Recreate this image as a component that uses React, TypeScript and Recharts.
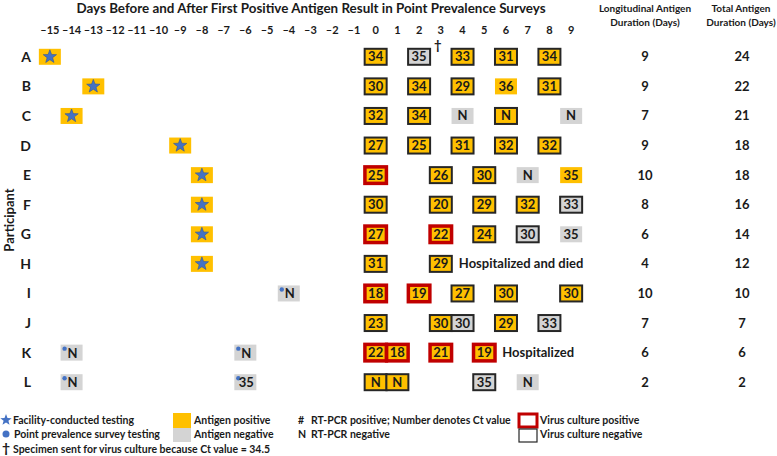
import { ScatterChart, Scatter, XAxis, YAxis, Customized } from "recharts";

const FONT = 'Lato, "Noto Sans", sans-serif';
const INK = "#1a1a1a";
const YELLOW = "#FFC000";
const GREY = "#D4D4D4";
const RED = "#C00000";
const BLUE = "#4472C4";
const BORDER = "#262626";

const participants = ["A", "B", "C", "D", "E", "F", "G", "H", "I", "J", "K", "L"];
const dayTicks = [-15, -14, -13, -12, -11, -10, -9, -8, -7, -6, -5, -4, -3, -2, -1, 0, 1, 2, 3, 4, 5, 6, 7, 8, 9];
const rowTicks = [0, 1, 2, 3, 4, 5, 6, 7, 8, 9, 10, 11];

const longitudinalDays = [9, 9, 7, 9, 10, 8, 6, 4, 10, 7, 6, 2];
const totalDays = [24, 22, 21, 18, 18, 16, 14, 12, 10, 7, 6, 2];

// facility-conducted antigen tests (all antigen positive)
const facilityTests: [string, number][] = [
  ["A", -15], ["B", -13], ["C", -14], ["D", -9],
  ["E", -8], ["F", -8], ["G", -8], ["H", -8],
];

// earlier point prevalence survey tests (antigen negative): participant, day, RT-PCR
const earlySurveyTests: [string, number, string][] = [
  ["I", -4, "N"], ["K", -14, "N"], ["K", -6, "N"], ["L", -14, "N"], ["L", -6, "35"],
];

// participant, day, RT-PCR (Ct or N), antigen positive, virus culture
type Culture = "pos" | "neg" | "";
const surveyResults: [string, number, string, boolean, Culture][] = [
  ["A", 0, "34", true, "neg"], ["A", 2, "35", false, "neg"], ["A", 4, "33", true, "neg"], ["A", 6, "31", true, "neg"], ["A", 8, "34", true, "neg"],
  ["B", 0, "30", true, "neg"], ["B", 2, "34", true, "neg"], ["B", 4, "29", true, "neg"], ["B", 6, "36", true, ""], ["B", 8, "31", true, "neg"],
  ["C", 0, "32", true, "neg"], ["C", 2, "34", true, "neg"], ["C", 4, "N", false, ""], ["C", 6, "N", true, "neg"], ["C", 9, "N", false, ""],
  ["D", 0, "27", true, "neg"], ["D", 2, "25", true, "neg"], ["D", 4, "31", true, "neg"], ["D", 6, "32", true, "neg"], ["D", 8, "32", true, "neg"],
  ["E", 0, "25", true, "pos"], ["E", 3, "26", true, "neg"], ["E", 5, "30", true, "neg"], ["E", 7, "N", false, ""], ["E", 9, "35", true, ""],
  ["F", 0, "30", true, "neg"], ["F", 3, "20", true, "neg"], ["F", 5, "29", true, "neg"], ["F", 7, "32", true, "neg"], ["F", 9, "33", false, "neg"],
  ["G", 0, "27", true, "pos"], ["G", 3, "22", true, "pos"], ["G", 5, "24", true, "neg"], ["G", 7, "30", false, "neg"], ["G", 9, "35", false, ""],
  ["H", 0, "31", true, "neg"], ["H", 3, "29", true, "neg"],
  ["I", 0, "18", true, "pos"], ["I", 2, "19", true, "pos"], ["I", 4, "27", true, "neg"], ["I", 6, "30", true, "neg"], ["I", 9, "30", true, "neg"],
  ["J", 0, "23", true, "neg"], ["J", 3, "30", true, "neg"], ["J", 4, "30", false, "neg"], ["J", 6, "29", true, "neg"], ["J", 8, "33", false, "neg"],
  ["K", 0, "22", true, "pos"], ["K", 1, "18", true, "pos"], ["K", 3, "21", true, "pos"], ["K", 5, "19", true, "pos"],
  ["L", 0, "N", true, "neg"], ["L", 1, "N", true, "neg"], ["L", 5, "35", false, "neg"], ["L", 7, "N", false, ""],
];

const notes: [string, number, string][] = [
  ["H", 3, "Hospitalized and died"],
  ["K", 5, "Hospitalized"],
];

const daggers: [string, number][] = [["A", 2]];

const rowOf = (p: string) => participants.indexOf(p);

const facilityData = facilityTests.map(([p, day]) => ({ day, row: rowOf(p) }));
const earlyData = earlySurveyTests.map(([p, day, pcr]) => ({ day, row: rowOf(p), pcr }));
const surveyData = surveyResults.map(([p, day, pcr, antigen, culture]) => ({ day, row: rowOf(p), pcr, antigen, culture }));
const noteData = notes.map(([p, day, text]) => ({ day, row: rowOf(p), text }));
const daggerData = daggers.map(([p, day]) => ({ day, row: rowOf(p) }));

const minus = (v: number) => (v < 0 ? "\u2013" + Math.abs(v) : String(v));

const starPath = (cx: number, cy: number, R: number, r: number) => {
  const pts: string[] = [];
  for (let i = 0; i < 10; i++) {
    const a = -Math.PI / 2 + (i * Math.PI) / 5;
    const rad = i % 2 === 0 ? R : r;
    pts.push(`${cx + rad * Math.cos(a)},${cy + rad * Math.sin(a)}`);
  }
  return "M" + pts.join("L") + "Z";
};

const cellText = (cx: number, cy: number, s: string) => (
  <text x={cx} y={cy + 4.5} textAnchor="middle" fontFamily={FONT} fontWeight={700} fontSize={13} fill={INK}>
    {s}
  </text>
);

const ResultCell = (props: any) => {
  const { cx, cy, payload } = props;
  const fill = payload.antigen ? YELLOW : GREY;
  if (payload.culture === "pos") {
    return (
      <g>
        <rect x={cx - 12.5} y={cy - 10} width={25} height={20} fill={RED} />
        <rect x={cx - 9} y={cy - 6.5} width={18} height={13} fill={fill} />
        {cellText(cx, cy, payload.pcr)}
      </g>
    );
  }
  return (
    <g>
      <rect
        x={cx - 11}
        y={cy - 8}
        width={22}
        height={16}
        fill={fill}
        stroke={payload.culture === "neg" ? BORDER : "none"}
        strokeWidth={2}
      />
      {cellText(cx, cy, payload.pcr)}
    </g>
  );
};

const FacilityCell = (props: any) => {
  const { cx, cy } = props;
  return (
    <g>
      <rect x={cx - 11} y={cy - 8} width={22} height={16} fill={YELLOW} />
      <path d={starPath(cx, cy, 7, 2.9)} fill={BLUE} stroke="#2F5597" strokeWidth={0.6} />
    </g>
  );
};

const EarlyCell = (props: any) => {
  const { cx, cy, payload } = props;
  return (
    <g>
      <rect x={cx - 11} y={cy - 8} width={22} height={16} fill={GREY} />
      <circle cx={cx - 7} cy={cy - 4} r={2.2} fill={BLUE} />
      <text x={cx + 1} y={cy + 5} textAnchor="middle" fontFamily={FONT} fontWeight={700} fontSize={13} fill={INK}>
        {payload.pcr}
      </text>
    </g>
  );
};

const NoteCell = (props: any) => {
  const { cx, cy, payload } = props;
  return (
    <text x={cx + 18} y={cy + 4.5} fontFamily={FONT} fontWeight={700} fontSize={13} fill={INK}>
      {payload.text}
    </text>
  );
};

const DaggerCell = (props: any) => {
  const { cx, cy } = props;
  return (
    <text x={cx + 15} y={cy - 7} fontFamily={FONT} fontWeight={700} fontSize={13} fill={INK}>
      {"\u2020"}
    </text>
  );
};

const DurationTick = (props: any) => {
  const { x, y, payload } = props;
  const i = payload.value;
  return (
    <g fontFamily={FONT} fontWeight={700} fontSize={13} fill={INK}>
      <text x={x + 63} y={y + 4.5} textAnchor="middle">{longitudinalDays[i]}</text>
      <text x={x + 160} y={y + 4.5} textAnchor="middle">{totalDays[i]}</text>
    </g>
  );
};

const Headers = () => (
  <g fontFamily={FONT} fontWeight={700} fill={INK}>
    <text x={311} y={13} textAnchor="middle" fontSize={13.4}>
      Days Before and After First Positive Antigen Result in Point Prevalence Surveys
    </text>
    <text x={645} y={12} textAnchor="middle" fontSize={10}>Longitudinal Antigen</text>
    <text x={645} y={26} textAnchor="middle" fontSize={10}>Duration (Days)</text>
    <text x={741} y={12} textAnchor="middle" fontSize={10}>Total Antigen</text>
    <text x={741} y={26} textAnchor="middle" fontSize={10}>Duration (Days)</text>
    <text x={14} y={220} textAnchor="middle" fontSize={13} transform="rotate(-90 14 220)">
      Participant
    </text>
  </g>
);

const LegendBlock = () => (
  <g fontFamily={FONT} fontWeight={700} fontSize={10.5} fill={INK}>
    <path d={starPath(6, 420, 6, 2.5)} fill={BLUE} />
    <text x={13} y={424}>Facility-conducted testing</text>
    <circle cx={6} cy={434} r={3.5} fill={BLUE} />
    <text x={14} y={438}>Point prevalence survey testing</text>

    <rect x={173} y={413} width={18} height={15} fill={YELLOW} />
    <text x={194} y={424}>Antigen positive</text>
    <rect x={173} y={428} width={18} height={14} fill={GREY} />
    <text x={194} y={438}>Antigen negative</text>

    <text x={298} y={424}>#</text>
    <text x={311} y={424}>RT-PCR positive; Number denotes Ct value</text>
    <text x={298} y={438}>N</text>
    <text x={311} y={438}>RT-PCR negative</text>

    <rect x={519} y={414} width={18} height={13} fill="#fff" stroke={RED} strokeWidth={3} />
    <text x={540} y={424}>Virus culture positive</text>
    <rect x={519} y={429} width={18} height={13} fill="#fff" stroke={BORDER} strokeWidth={1.2} />
    <text x={540} y={438}>Virus culture negative</text>

    <text x={2} y={453} fontSize={14}>{"\u2020"}</text>
    <text x={13} y={453}>Specimen sent for virus culture because Ct value = 34.5</text>
  </g>
);

export default function App() {
  return (
    <div style={{ position: "absolute", left: 0, top: 0, width: 777, height: 456, background: "#fff" }}>
      <ScatterChart width={777} height={456} margin={{ top: 12, right: 0, bottom: 59, left: 0 }}>
        <XAxis
          type="number"
          dataKey="day"
          orientation="top"
          domain={[-15.5, 9.5]}
          ticks={dayTicks}
          interval={0}
          height={30}
          axisLine={false}
          tickLine={false}
          tickFormatter={minus}
          tick={{ fontFamily: FONT, fontWeight: 700, fontSize: 11, fill: INK }}
        />
        <YAxis
          type="number"
          dataKey="row"
          domain={[-0.5, 11.5]}
          reversed
          ticks={rowTicks}
          interval={0}
          width={39}
          axisLine={false}
          tickLine={false}
          tickFormatter={(i: number) => participants[i]}
          tick={{ fontFamily: FONT, fontWeight: 700, fontSize: 14, fill: INK }}
        />
        <YAxis
          yAxisId="dur"
          type="number"
          dataKey="row"
          orientation="right"
          domain={[-0.5, 11.5]}
          reversed
          ticks={rowTicks}
          interval={0}
          width={195}
          axisLine={false}
          tickLine={false}
          tickSize={0}
          tickMargin={0}
          tick={<DurationTick />}
        />
        <Scatter data={facilityData} shape={(p: any) => <FacilityCell {...p} />} isAnimationActive={false} />
        <Scatter data={earlyData} shape={(p: any) => <EarlyCell {...p} />} isAnimationActive={false} />
        <Scatter data={surveyData} shape={(p: any) => <ResultCell {...p} />} isAnimationActive={false} />
        <Scatter yAxisId="dur" data={noteData} shape={(p: any) => <NoteCell {...p} />} isAnimationActive={false} />
        <Scatter data={daggerData} shape={(p: any) => <DaggerCell {...p} />} isAnimationActive={false} />
        <Customized component={Headers} />
        <Customized component={LegendBlock} />
      </ScatterChart>
    </div>
  );
}
